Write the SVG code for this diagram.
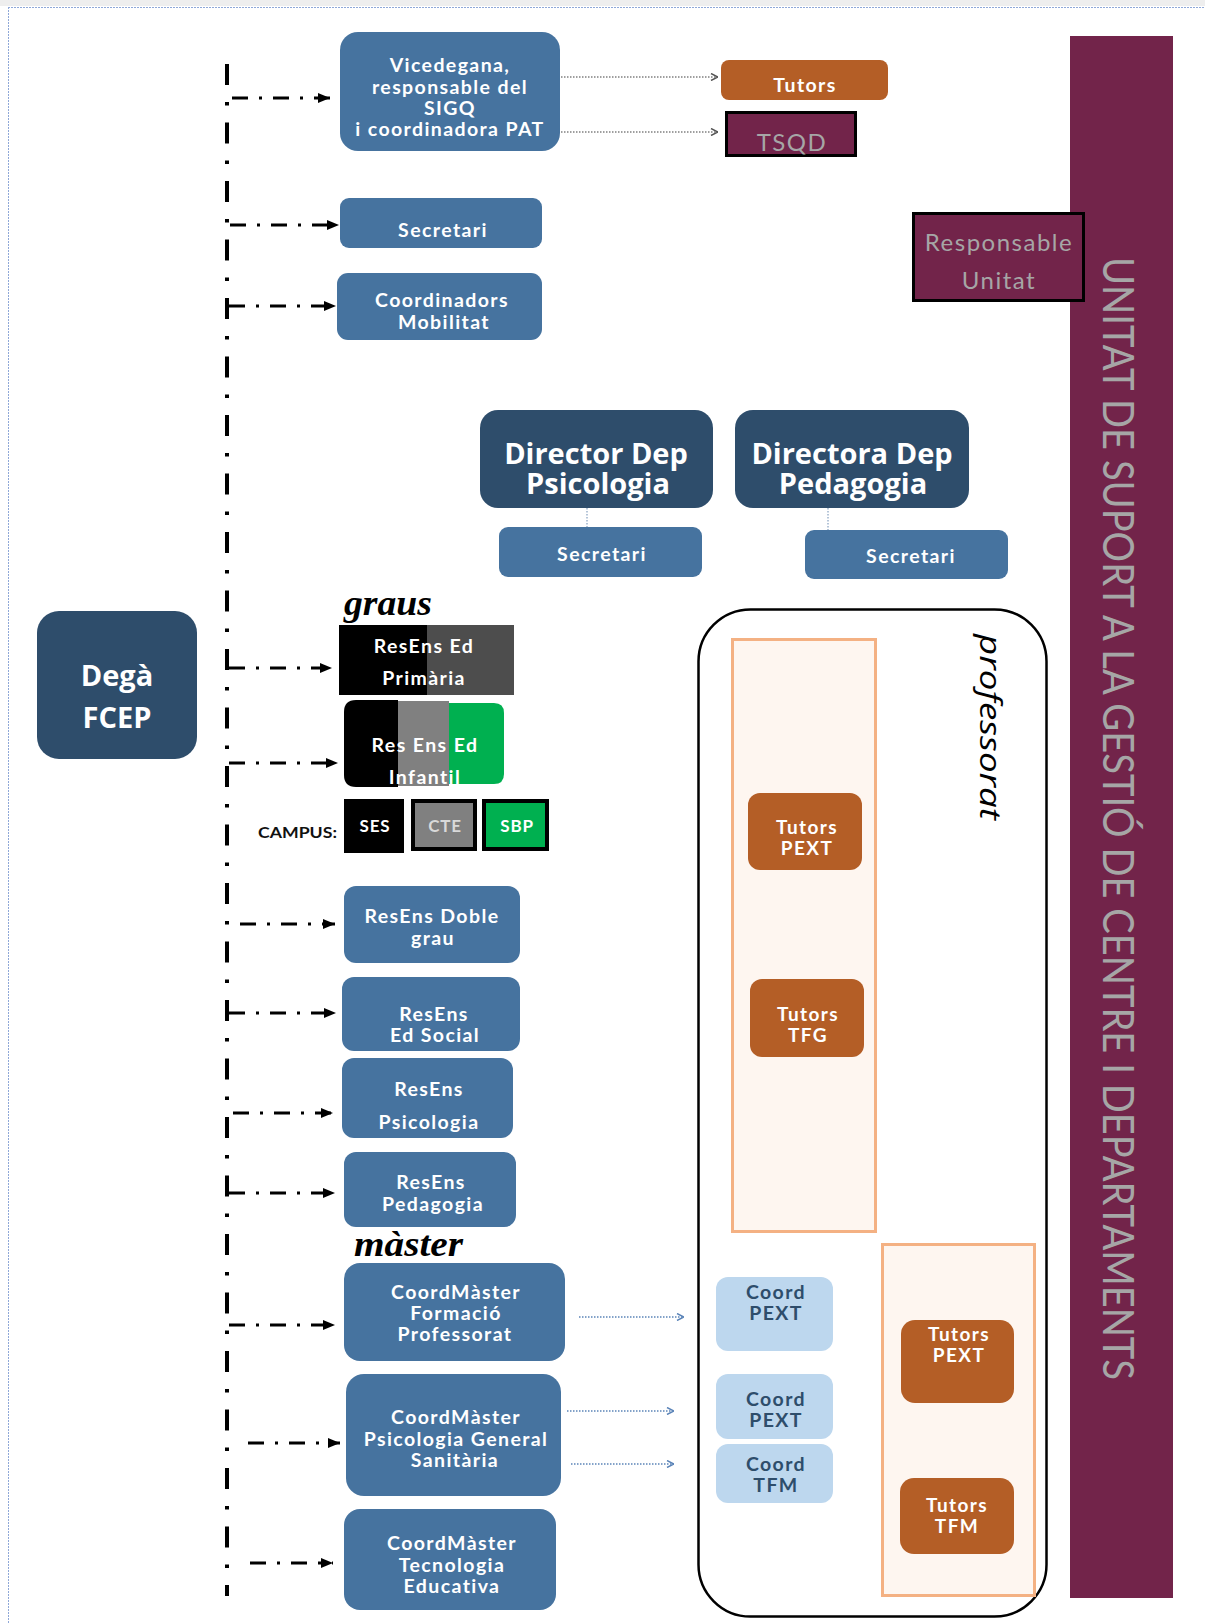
<svg xmlns="http://www.w3.org/2000/svg" width="1205" height="1623" viewBox="0 0 1205 1623">
<defs>
<style>
.t{font-family:Lato,"Liberation Sans",sans-serif;font-weight:bold;fill:#fff;text-anchor:middle;dominant-baseline:central;letter-spacing:1.4px}
.tb{font-size:19.5px}
.big{font-family:"Open Sans",Lato,sans-serif;font-weight:bold;font-size:29px;fill:#fff;text-anchor:middle;dominant-baseline:central}
.blue{fill:#46739F}
.navy{fill:#2E4D6B}
.orange{fill:#B45E26}
.maroon{fill:#72244A}
.lblue{fill:#BDD7EE}
.gray{font-family:Lato,"Liberation Sans",sans-serif;fill:#A6A6A6;text-anchor:middle;dominant-baseline:central;letter-spacing:1.5px}
.ser{font-family:"Liberation Serif",serif;font-weight:bold;font-style:italic;font-size:36px;fill:#000}
.dd{stroke:#000;stroke-width:3;stroke-dasharray:16 11 3 11;fill:none}
.dg{stroke:#808080;stroke-width:1.5;stroke-dasharray:1.5 1.5;fill:none}
.db{stroke:#5B84B8;stroke-width:1.5;stroke-dasharray:1.5 1.5;fill:none}
.peach{fill:#FEF6F0;stroke:#F4B183;stroke-width:3}
.ck{fill:#2E4D6B}
</style>
<marker id="ah" markerUnits="userSpaceOnUse" markerWidth="12" markerHeight="10" refX="12" refY="5" orient="auto"><path d="M0,0 L12,5 L0,10 z" fill="#000"/></marker>
<marker id="ag" markerUnits="userSpaceOnUse" markerWidth="8" markerHeight="8" refX="8" refY="4" orient="auto"><path d="M1,0.5 L8,4 L1,7.5" fill="none" stroke="#555" stroke-width="1.5"/></marker>
<marker id="ab" markerUnits="userSpaceOnUse" markerWidth="8" markerHeight="8" refX="8" refY="4" orient="auto"><path d="M1,0.5 L8,4 L1,7.5" fill="none" stroke="#5B84B8" stroke-width="1.5"/></marker>
</defs>
<rect width="1205" height="1623" fill="#fff"/>
<rect x="0" y="0" width="1205" height="6" fill="#EEEEEE"/>
<line x1="8" y1="7.5" x2="1205" y2="7.5" stroke="#8FA8D8" stroke-width="1" stroke-dasharray="2 1"/>
<line x1="8.5" y1="7" x2="8.5" y2="1623" stroke="#8FA8D8" stroke-width="1" stroke-dasharray="2 1"/>

<g id="unitat">
<rect x="1070" y="36" width="103" height="1562" class="maroon"/>
<text transform="translate(1103,257) rotate(90)" font-family="Lato,'Liberation Sans',sans-serif" font-size="42" fill="#A6A6A6" textLength="1123" lengthAdjust="spacingAndGlyphs">UNITAT DE SUPORT A LA GESTIÓ DE CENTRE I DEPARTAMENTS</text>
</g>

<g id="responsable-unitat">
<rect x="913.5" y="213.5" width="170" height="87" class="maroon" stroke="#000" stroke-width="3"/>
<text class="gray" x="999" y="241" font-size="24">Responsable</text>
<text class="gray" x="999" y="279" font-size="24">Unitat</text>
</g>

<g id="professorat">
<rect x="698.5" y="609.5" width="348" height="1007" rx="52" fill="#fff" stroke="#000" stroke-width="2.5"/>
<text transform="translate(980,634) rotate(90)" font-family="'Open Sans',Lato,sans-serif" font-style="italic" font-size="30" fill="#000" textLength="186" lengthAdjust="spacingAndGlyphs">professorat</text>
</g>
<g id="grup-graus"><rect x="732.5" y="639.5" width="143" height="592" class="peach"/></g>
<g id="grup-master"><rect x="882.5" y="1244.5" width="152" height="351" class="peach"/></g>

<g id="connectors">
<line x1="227" y1="64" x2="227" y2="1596" stroke="#000" stroke-width="4" stroke-dasharray="21 17 3.5 17"/>
<line x1="232" y1="98" x2="330" y2="98" class="dd" marker-end="url(#ah)"/>
<line x1="230" y1="225" x2="339" y2="225" class="dd" marker-end="url(#ah)"/>
<line x1="229" y1="306" x2="336" y2="306" class="dd" marker-end="url(#ah)"/>
<line x1="229" y1="668" x2="332" y2="668" class="dd" marker-end="url(#ah)"/>
<line x1="229" y1="763" x2="338" y2="763" class="dd" marker-end="url(#ah)"/>
<line x1="240" y1="924" x2="335" y2="924" class="dd" marker-end="url(#ah)"/>
<line x1="229" y1="1013" x2="336" y2="1013" class="dd" marker-end="url(#ah)"/>
<line x1="233" y1="1113" x2="333" y2="1113" class="dd" marker-end="url(#ah)"/>
<line x1="229" y1="1193" x2="335" y2="1193" class="dd" marker-end="url(#ah)"/>
<line x1="229" y1="1325" x2="335" y2="1325" class="dd" marker-end="url(#ah)"/>
<line x1="248" y1="1443" x2="340" y2="1443" class="dd" marker-end="url(#ah)"/>
<line x1="250" y1="1563" x2="333" y2="1563" class="dd" marker-end="url(#ah)"/>
<line x1="561" y1="77" x2="718" y2="77" class="dg" marker-end="url(#ag)"/>
<line x1="561" y1="132" x2="718" y2="132" class="dg" marker-end="url(#ag)"/>
<line x1="587" y1="508" x2="587" y2="527" stroke="#9DB3CC" stroke-width="1.5" stroke-dasharray="1.5 1.5"/>
<line x1="828" y1="508" x2="828" y2="530" stroke="#9DB3CC" stroke-width="1.5" stroke-dasharray="1.5 1.5"/>
<line x1="579" y1="1317" x2="684" y2="1317" class="db" marker-end="url(#ab)"/>
<line x1="567" y1="1411" x2="674" y2="1411" class="db" marker-end="url(#ab)"/>
<line x1="571" y1="1464" x2="674" y2="1464" class="db" marker-end="url(#ab)"/>
</g>

<g id="dega">
<rect x="37" y="611" width="160" height="148" rx="22" class="navy"/>
<text class="big" x="117" y="674" font-size="30">Degà</text>
<text class="big" x="117" y="716" font-size="30">FCEP</text>
</g>

<g id="vicedegana">
<rect x="340" y="32" width="220" height="119" rx="18" class="blue"/>
<text class="t tb" x="450" y="64">Vicedegana,</text>
<text class="t tb" x="450" y="86">responsable del</text>
<text class="t tb" x="450" y="107">SIGQ</text>
<text class="t tb" x="450" y="128">i coordinadora PAT</text>
</g>

<g id="tutors-top">
<rect x="721" y="60" width="167" height="40" rx="8" class="orange"/>
<text class="t tb" x="805" y="84">Tutors</text>
</g>

<g id="tsqd">
<rect x="726.5" y="112.5" width="129" height="43" class="maroon" stroke="#000" stroke-width="3"/>
<text class="gray" x="792" y="141" font-size="24">TSQD</text>
</g>

<g id="secretari">
<rect x="340" y="198" width="202" height="50" rx="9" class="blue"/>
<text class="t tb" x="443" y="229">Secretari</text>
</g>

<g id="coordinadors-mobilitat">
<rect x="337" y="273" width="205" height="67" rx="11" class="blue"/>
<text class="t tb" x="442" y="299">Coordinadors</text>
<text class="t tb" x="444" y="321">Mobilitat</text>
</g>

<g id="director-psicologia">
<rect x="480" y="410" width="233" height="98" rx="18" class="navy"/>
<text class="big" x="596" y="452">Director Dep</text>
<text class="big" x="598" y="482">Psicologia</text>
</g>

<g id="directora-pedagogia">
<rect x="735" y="410" width="234" height="98" rx="18" class="navy"/>
<text class="big" x="852" y="452">Directora Dep</text>
<text class="big" x="853" y="482">Pedagogia</text>
</g>

<g id="secretari-psicologia">
<rect x="499" y="527" width="203" height="50" rx="9" class="blue"/>
<text class="t tb" x="602" y="553">Secretari</text>
</g>

<g id="secretari-pedagogia">
<rect x="805" y="530" width="203" height="49" rx="9" class="blue"/>
<text class="t tb" x="911" y="555">Secretari</text>
</g>

<text class="ser" x="344" y="615" textLength="88" lengthAdjust="spacingAndGlyphs">graus</text>

<g id="resens-primaria">
<rect x="339" y="625" width="88" height="70" fill="#000"/>
<rect x="427" y="625" width="87" height="70" fill="#4D4D4D"/>
<text class="t tb" x="424" y="645">ResEns Ed</text>
<text class="t tb" x="424" y="677">Primària</text>
</g>

<g id="resens-infantil">
<path d="M356,700 H398 V787 H356 Q344,787 344,775 V712 Q344,700 356,700 Z" fill="#000"/>
<rect x="398" y="701" width="51" height="85" fill="#808080"/>
<path d="M449,703 H494 Q504,703 504,713 V774 Q504,784 494,784 H449 Z" fill="#00B050"/>
<text class="t tb" x="425" y="744">Res Ens Ed</text>
<text class="t tb" x="425" y="776">Infantil</text>
</g>

<g id="campus">
<text x="258" y="838" font-family="Lato,'Liberation Sans',sans-serif" font-weight="bold" font-size="16" fill="#111" textLength="79" lengthAdjust="spacingAndGlyphs">CAMPUS:</text>
</g>
<g id="ses">
<rect x="345" y="800" width="58" height="52" fill="#000" stroke="#000" stroke-width="2"/>
<text class="t" x="375" y="825" font-size="17" style="letter-spacing:0.8px">SES</text>
</g>
<g id="cte">
<rect x="413" y="801" width="62" height="48" fill="#808080" stroke="#000" stroke-width="4"/>
<text class="t" x="445" y="825" font-size="17" style="fill:#D9D9D9;letter-spacing:0.8px">CTE</text>
</g>
<g id="sbp">
<rect x="484" y="801" width="63" height="48" fill="#00B050" stroke="#000" stroke-width="4"/>
<text class="t" x="517" y="825" font-size="17" style="letter-spacing:0.8px">SBP</text>
</g>

<g id="resens-doble-grau">
<rect x="344" y="886" width="176" height="77" rx="12" class="blue"/>
<text class="t tb" x="432" y="915">ResEns Doble</text>
<text class="t tb" x="433" y="937">grau</text>
</g>

<g id="resens-ed-social">
<rect x="342" y="977" width="178" height="74" rx="12" class="blue"/>
<text class="t tb" x="434" y="1013">ResEns</text>
<text class="t tb" x="435" y="1034">Ed Social</text>
</g>

<g id="resens-psicologia">
<rect x="342" y="1058" width="171" height="80" rx="12" class="blue"/>
<text class="t tb" x="429" y="1088">ResEns</text>
<text class="t tb" x="429" y="1121">Psicologia</text>
</g>

<g id="resens-pedagogia">
<rect x="344" y="1152" width="172" height="75" rx="12" class="blue"/>
<text class="t tb" x="431" y="1181">ResEns</text>
<text class="t tb" x="433" y="1203">Pedagogia</text>
</g>

<text class="ser" x="354" y="1256" textLength="109" lengthAdjust="spacingAndGlyphs">màster</text>

<g id="coordmaster-formacio">
<rect x="344" y="1263" width="221" height="98" rx="16" class="blue"/>
<text class="t tb" x="456" y="1291">CoordMàster</text>
<text class="t tb" x="456" y="1312">Formació</text>
<text class="t tb" x="455" y="1333">Professorat</text>
</g>

<g id="coordmaster-psicologia">
<rect x="346" y="1374" width="215" height="122" rx="18" class="blue"/>
<text class="t tb" x="456" y="1416">CoordMàster</text>
<text class="t tb" x="456" y="1438">Psicologia General</text>
<text class="t tb" x="455" y="1459">Sanitària</text>
</g>

<g id="coordmaster-tecnologia">
<rect x="344" y="1509" width="212" height="101" rx="16" class="blue"/>
<text class="t tb" x="452" y="1542">CoordMàster</text>
<text class="t tb" x="452" y="1564">Tecnologia</text>
<text class="t tb" x="452" y="1585">Educativa</text>
</g>

<g id="tutors-pext-graus">
<rect x="748" y="793" width="114" height="77" rx="12" class="orange"/>
<text class="t" x="807" y="826" font-size="19">Tutors</text>
<text class="t" x="807" y="847" font-size="19">PEXT</text>
</g>

<g id="tutors-tfg">
<rect x="750" y="979" width="114" height="78" rx="12" class="orange"/>
<text class="t" x="808" y="1013" font-size="19">Tutors</text>
<text class="t" x="808" y="1034" font-size="19">TFG</text>
</g>

<g id="coord-pext-1">
<rect x="716" y="1277" width="117" height="74" rx="12" class="lblue"/>
<text class="t tb ck" x="776" y="1291" style="fill:#2E4D6B">Coord</text>
<text class="t tb ck" x="776" y="1312" style="fill:#2E4D6B">PEXT</text>
</g>

<g id="coord-pext-2">
<rect x="716" y="1374" width="117" height="65" rx="12" class="lblue"/>
<text class="t tb" x="776" y="1398" style="fill:#2E4D6B">Coord</text>
<text class="t tb" x="776" y="1419" style="fill:#2E4D6B">PEXT</text>
</g>

<g id="coord-tfm">
<rect x="716" y="1444" width="117" height="59" rx="12" class="lblue"/>
<text class="t tb" x="776" y="1463" style="fill:#2E4D6B">Coord</text>
<text class="t tb" x="776" y="1484" style="fill:#2E4D6B">TFM</text>
</g>

<g id="tutors-pext-master">
<rect x="901" y="1320" width="113" height="83" rx="14" class="orange"/>
<text class="t" x="959" y="1333" font-size="19">Tutors</text>
<text class="t" x="959" y="1354" font-size="19">PEXT</text>
</g>

<g id="tutors-tfm">
<rect x="900" y="1478" width="114" height="76" rx="14" class="orange"/>
<text class="t" x="957" y="1504" font-size="19">Tutors</text>
<text class="t" x="957" y="1525" font-size="19">TFM</text>
</g>
</svg>
